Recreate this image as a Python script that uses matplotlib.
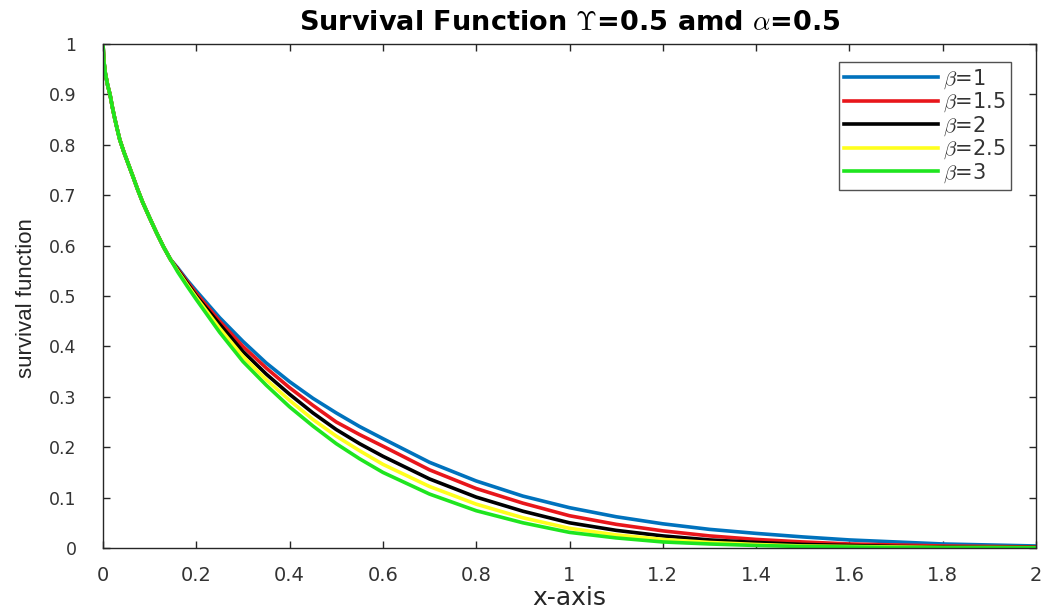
import matplotlib
matplotlib.use("Agg")
import matplotlib.pyplot as plt
from matplotlib import font_manager

# values
x_start = [0, 0.002, 0.005, 0.01, 0.015, 0.02, 0.025, 0.03, 0.036, 0.045,
           0.055, 0.065, 0.074, 0.085, 0.1, 0.115, 0.13, 0.145]
x_rest = [0.16, 0.18, 0.2, 0.25, 0.3, 0.35, 0.4, 0.45, 0.5, 0.55, 0.6,
          0.7, 0.8, 0.9, 1.0, 1.1, 1.2, 1.3, 1.4, 1.5, 1.6, 1.7, 1.8, 1.9, 2.0]
x = x_start + x_rest

# all five curves sit on top of each other up to x ~ 0.15
start = [1.0, 0.965, 0.942, 0.918, 0.9, 0.875, 0.853, 0.833, 0.81, 0.785,
         0.76, 0.735, 0.712, 0.686, 0.655, 0.625, 0.597, 0.572]

beta_1 = start + [0.556, 0.532, 0.51, 0.457, 0.41, 0.367, 0.33, 0.297, 0.268, 0.241, 0.217,
                  0.17, 0.133, 0.103, 0.080, 0.062, 0.048, 0.037, 0.029, 0.022,
                  0.016, 0.012, 0.008, 0.006, 0.004]
beta_15 = start + [0.554, 0.529, 0.505, 0.45, 0.40, 0.357, 0.318, 0.283, 0.25, 0.225, 0.202,
                   0.155, 0.118, 0.089, 0.064, 0.047, 0.034, 0.024, 0.017, 0.012,
                   0.008, 0.006, 0.004, 0.003, 0.002]
beta_2 = start + [0.552, 0.526, 0.50, 0.444, 0.39, 0.345, 0.305, 0.268, 0.235, 0.207, 0.182,
                  0.137, 0.101, 0.073, 0.050, 0.035, 0.024, 0.016, 0.011, 0.007,
                  0.005, 0.003, 0.002, 0.0015, 0.001]
beta_25 = start + [0.55, 0.523, 0.497, 0.436, 0.38, 0.334, 0.293, 0.255, 0.222, 0.193, 0.166,
                   0.122, 0.087, 0.060, 0.039, 0.026, 0.017, 0.011, 0.007, 0.004,
                   0.003, 0.002, 0.001, 0.001, 0.0005]
beta_3 = start + [0.548, 0.52, 0.493, 0.428, 0.37, 0.323, 0.28, 0.242, 0.207, 0.177, 0.15,
                  0.107, 0.074, 0.050, 0.031, 0.020, 0.012, 0.008, 0.005, 0.003,
                  0.002, 0.001, 0.0005, 0.0005, 0.0005]

series = [beta_1, beta_15, beta_2, beta_25, beta_3]
labels = [r"$\beta$=1", r"$\beta$=1.5", r"$\beta$=2", r"$\beta$=2.5", r"$\beta$=3"]
colors = ["#0072BD", "#e8161b", "#000000", "#ffff1e", "#1fe51f"]

xticks = [0, 0.2, 0.4, 0.6, 0.8, 1, 1.2, 1.4, 1.6, 1.8, 2]
xtick_labels = ["0", "0.2", "0.4", "0.6", "0.8", "1", "1.2", "1.4", "1.6", "1.8", "2"]
yticks = [0, 0.1, 0.2, 0.3, 0.4, 0.5, 0.6, 0.7, 0.8, 0.9, 1]
ytick_labels = ["0", "0.1", "0.2", "0.3", "0.4", "0.5", "0.6", "0.7", "0.8", "0.9", "1"]

plt.rcParams["font.family"] = ["DejaVu Sans"]
plt.rcParams["mathtext.fontset"] = "cm"

# condensed font for the y label if it is there
names = {f.name for f in font_manager.fontManager.ttflist}
if "Liberation Sans Narrow" in names:
    ylab_font, ylab_size = "Liberation Sans Narrow", 19
else:
    ylab_font, ylab_size = "Liberation Sans", 16

W, H = 1046, 612
fig = plt.figure(figsize=(W / 100, H / 100), dpi=100)
ax = fig.add_axes([103 / W, 1 - 548 / H, 933 / W, 504 / H])

for ys, lab, c in zip(series, labels, colors):
    ax.plot(x, ys, color=c, lw=2.6, label=lab)

ax.set_xlim(0, 2)
ax.set_ylim(0, 1)
ax.set_xticks(xticks)
ax.set_xticklabels(xtick_labels)
ax.set_yticks(yticks)
ax.set_yticklabels(ytick_labels)
ax.tick_params(direction="in", length=5, width=1, color="#262626",
               top=True, right=True, labelcolor="#333333")
ax.tick_params(axis="x", labelsize=14, pad=13)
ax.tick_params(axis="y", labelsize=12.5, pad=19)
for s in ax.spines.values():
    s.set_color("#262626")
    s.set_linewidth(1)

ax.set_title(r"Survival Function $\Upsilon$=0.5 amd $\alpha$=0.5",
             fontsize=19.5, fontweight="bold", pad=10)
ax.set_xlabel("x-axis", fontsize=18, color="#262626")
ax.xaxis.set_label_coords(0.5, (548 - 586) / 504)
ax.set_ylabel("survival function", fontsize=ylab_size, color="#262626", family=ylab_font)
ax.yaxis.set_label_coords((37 - 103) / 933, (548 - 298) / 504)

leg = ax.legend(loc="upper right", bbox_to_anchor=(1011 / W, 1 - 62 / H),
                bbox_transform=fig.transFigure, fontsize=15, frameon=True, fancybox=False,
                handlelength=4.5, handletextpad=0.25, borderpad=0.25, labelspacing=0.0,
                borderaxespad=0)
leg.get_frame().set_edgecolor("#262626")
leg.get_frame().set_linewidth(1)
for t in leg.get_texts():
    t.set_color("#333333")

fig.savefig("out.png", dpi=100)
